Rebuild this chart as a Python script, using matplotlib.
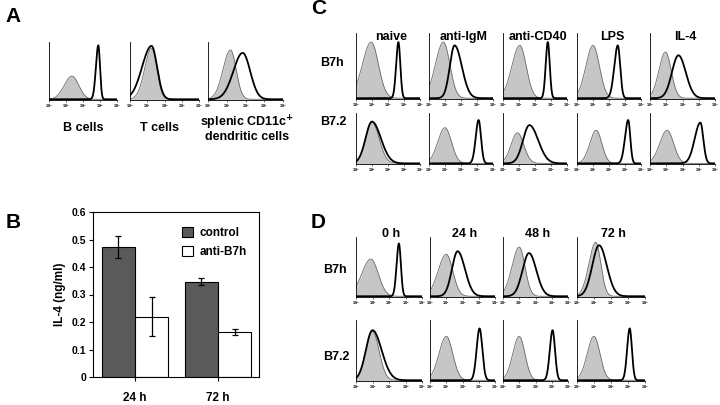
import numpy as np
import matplotlib
matplotlib.use("Agg")
import matplotlib.pyplot as plt

plt.rcParams['font.family'] = ['Liberation Sans', 'DejaVu Sans']
plt.rcParams['font.weight'] = 'bold'

W, H = 720, 405

# ---------------- data ----------------
# Panel A: histograms (center in log decades, left spread, right spread, height)
A_labels = ["B cells", "T cells", "splenic CD11c$^{\\mathbf{+}}$", "dendritic cells"]
A_shaded = [(1.35, 0.45, 0.40, 0.40), (1.25, 0.40, 0.30, 0.88), (1.20, 0.40, 0.30, 0.85)]
A_open = [(2.90, 0.14, 0.10, 0.93), (1.25, 0.55, 0.32, 0.92), (1.85, 0.50, 0.40, 0.80)]

# Panel B: IL-4 production
B_times = ["24 h", "72 h"]
B_control = [0.473, 0.347]
B_control_err = [0.040, 0.012]
B_anti = [0.220, 0.163]
B_anti_err = [0.070, 0.010]
B_yticks = [0, 0.1, 0.2, 0.3, 0.4, 0.5, 0.6]
B_yticklabels = ["0", "0.1", "0.2", "0.3", "0.4", "0.5", "0.6"]

# Panel C: B7h / B7.2 under stimuli
C_cols = ["naive", "anti-IgM", "anti-CD40", "LPS", "IL-4"]
C_rows = ["B7h", "B7.2"]
C_shaded = [
    [(0.95, 0.55, 0.45, 0.85), (0.90, 0.50, 0.40, 0.85), (1.05, 0.50, 0.40, 0.80), (1.00, 0.45, 0.40, 0.80), (0.95, 0.40, 0.35, 0.70)],
    [(1.00, 0.40, 0.45, 0.80), (1.00, 0.45, 0.40, 0.70), (0.90, 0.40, 0.40, 0.60), (1.20, 0.40, 0.35, 0.65), (1.05, 0.45, 0.40, 0.65)],
]
C_open = [
    [(2.65, 0.14, 0.12, 0.85), (1.60, 0.30, 0.45, 0.80), (2.80, 0.13, 0.12, 0.85), (2.55, 0.22, 0.15, 0.80), (1.75, 0.40, 0.45, 0.65)],
    [(1.00, 0.40, 0.55, 0.82), (3.10, 0.18, 0.15, 0.85), (1.65, 0.40, 0.55, 0.75), (3.20, 0.20, 0.13, 0.85), (3.10, 0.35, 0.18, 0.80)],
]

# Panel D: time course
D_cols = ["0 h", "24 h", "48 h", "72 h"]
D_rows = ["B7h", "B7.2"]
D_shaded = [
    [(0.90, 0.55, 0.45, 0.62), (1.00, 0.50, 0.40, 0.70), (1.00, 0.45, 0.35, 0.82), (1.10, 0.40, 0.30, 0.90)],
    [(1.00, 0.40, 0.40, 0.80), (1.00, 0.45, 0.40, 0.72), (1.00, 0.40, 0.35, 0.72), (1.00, 0.40, 0.35, 0.72)],
]
D_open = [
    [(2.60, 0.14, 0.12, 0.88), (1.70, 0.35, 0.45, 0.75), (1.60, 0.40, 0.45, 0.72), (1.30, 0.40, 0.45, 0.85)],
    [(1.00, 0.40, 0.55, 0.82), (3.05, 0.18, 0.17, 0.85), (3.05, 0.17, 0.15, 0.82), (3.10, 0.15, 0.13, 0.85)],
]

decade_labels = ["$10^{%d}$" % i for i in range(5)]

fig = plt.figure(figsize=(W / 100, H / 100), dpi=100)
fig.patch.set_facecolor('white')


def px_axes(x0, y0, x1, y1):
    return fig.add_axes([x0 / W, 1 - y1 / H, (x1 - x0) / W, (y1 - y0) / H])


xs = np.linspace(0, 4, 400)


def curve(p):
    c, sl, sr, h = p
    s = np.where(xs < c, sl, sr)
    return h * np.exp(-0.5 * ((xs - c) / s) ** 2) + 0.012


def histo(x0, y0, x1, y1, shaded, opened):
    ax = px_axes(x0, y0, x1, y1)
    ys = curve(shaded)
    yo = curve(opened)
    ax.fill_between(xs, 0, ys, color='#c6c6c6', lw=0)
    ax.plot(xs, ys, color='#6a6a6a', lw=0.6)
    ax.plot(xs, yo, color='black', lw=1.3)
    ax.set_xlim(0, 4)
    ax.set_ylim(0, 1.0)
    for s in ['top', 'right']:
        ax.spines[s].set_visible(False)
    for s in ['left', 'bottom']:
        ax.spines[s].set_linewidth(0.6)
    ax.set_xticks([0, 1, 2, 3, 4])
    ax.set_xticklabels(decade_labels, fontsize=2.3)
    ax.tick_params(axis='x', length=1.5, width=0.4, pad=0.5)
    ax.set_yticks([0.25, 0.5, 0.75])
    ax.set_yticklabels([])
    ax.tick_params(axis='y', length=1, width=0.3, direction='in')
    ax.patch.set_alpha(0)
    return ax


# ---- Panel A ----
fig.text(5 / W, 1 - 16 / H, "A", fontsize=15, fontweight='bold', va='center')
A_x = [(49, 117), (130, 199), (208, 283)]
for i, (xa, xb) in enumerate(A_x):
    histo(xa, 42, xb, 100, A_shaded[i], A_open[i])
fig.text(83 / W, 1 - 128 / H, A_labels[0], fontsize=9, ha='center', va='center')
fig.text(160 / W, 1 - 128 / H, A_labels[1], fontsize=9, ha='center', va='center')
fig.text(247 / W, 1 - 123 / H, A_labels[2], fontsize=9, ha='center', va='center')
fig.text(247 / W, 1 - 137 / H, A_labels[3], fontsize=9, ha='center', va='center')

# ---- Panel B ----
fig.text(6 / W, 1 - 222 / H, "B", fontsize=15, fontweight='bold', va='center')
axb = px_axes(93, 212, 259, 377)
x = np.arange(len(B_times))
bw = 0.4
axb.bar(x - bw / 2, B_control, bw, color='#5a5a5a', edgecolor='black', lw=0.8, label='control')
axb.bar(x + bw / 2, B_anti, bw, color='white', edgecolor='black', lw=0.8, label='anti-B7h')
axb.errorbar(x - bw / 2, B_control, yerr=B_control_err, fmt='none', ecolor='black', elinewidth=0.9, capsize=2.5, capthick=0.9)
axb.errorbar(x + bw / 2, B_anti, yerr=B_anti_err, fmt='none', ecolor='black', elinewidth=0.9, capsize=2.5, capthick=0.9)
axb.set_xlim(-0.506, 1.494)
axb.set_ylim(0, 0.6)
axb.set_yticks(B_yticks)
axb.set_yticklabels(B_yticklabels, fontsize=7.5, fontweight='bold')
axb.set_xticks(x)
axb.set_xticklabels(B_times, fontsize=8.5, fontweight='bold')
axb.tick_params(axis='x', length=3, width=0.8, pad=8)
axb.tick_params(axis='y', length=3, width=0.8, pad=2)
for s in axb.spines.values():
    s.set_linewidth(0.8)
axb.set_ylabel("IL-4 (ng/ml)", fontsize=8.5, fontweight='bold', labelpad=4)
axb.legend(loc='upper right', frameon=False, fontsize=8.5, handlelength=0.9, handleheight=0.9,
           handletextpad=0.6, borderaxespad=0.6, labelspacing=0.6, bbox_to_anchor=(1.0, 0.98))

# ---- Panel C ----
fig.text(311 / W, 1 - 9 / H, "C", fontsize=15, fontweight='bold', va='center')
C_x = [(356, 420), (429, 493), (503, 567), (577, 641), (650, 715)]
C_y = [(33, 99), (113, 164)]
for j, (xa, xb) in enumerate(C_x):
    fig.text((xa + xb) / 2 / W + 3 / W, 1 - 37 / H, C_cols[j], fontsize=9, ha='center', va='center')
for i, (ya, yb) in enumerate(C_y):
    fig.text(320 / W, 1 - (63 if i == 0 else 122) / H, C_rows[i], fontsize=9, ha='left', va='center')
    for j, (xa, xb) in enumerate(C_x):
        histo(xa, ya, xb, yb, C_shaded[i][j], C_open[i][j])

# ---- Panel D ----
fig.text(311 / W, 1 - 222 / H, "D", fontsize=15, fontweight='bold', va='center')
D_x = [(356, 422), (430, 495), (503, 568), (577, 645)]
D_y = [(237, 297), (320, 381)]
for j, (xa, xb) in enumerate(D_x):
    fig.text((xa + xb) / 2 / W + 2 / W, 1 - 234 / H, D_cols[j], fontsize=9, ha='center', va='center')
for i, (ya, yb) in enumerate(D_y):
    fig.text(323 / W, 1 - (270 if i == 0 else 357) / H, D_rows[i], fontsize=9, ha='left', va='center')
    for j, (xa, xb) in enumerate(D_x):
        histo(xa, ya, xb, yb, D_shaded[i][j], D_open[i][j])

fig.savefig("out.png", dpi=100, facecolor='white')
